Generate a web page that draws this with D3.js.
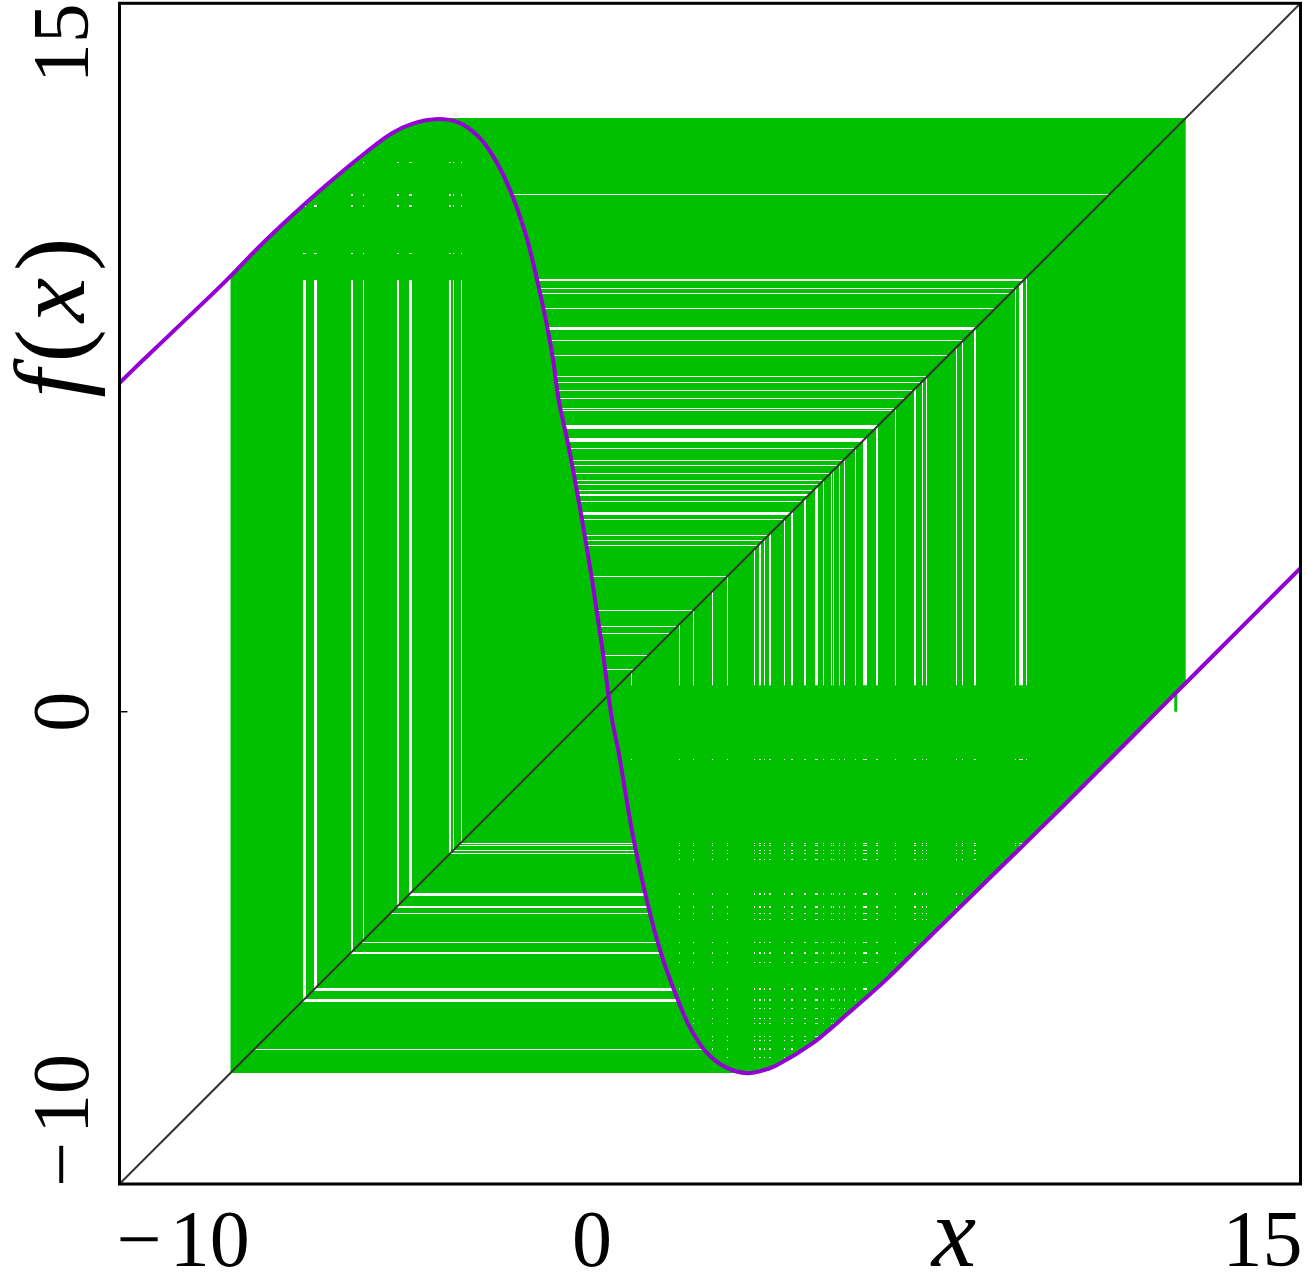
<!DOCTYPE html>
<html>
<head>
<meta charset="utf-8">
<script src="https://cdn.jsdelivr.net/npm/d3@7"></script>
<style>
  body { margin: 0; background: #fff; }
  text { font-family: "Liberation Serif", "DejaVu Serif", serif; fill: #000; }
</style>
</head>
<body>
<div id="graph"></div>
<script>
// curve f(x)
const curveX = [-10.0, -9.566, -8.72, -7.765, -7.059, -6.352, -5.646, -4.941, -4.233, -3.809, -3.316,
                -2.822, -2.398, -2.114, -1.763, -1.409, -1.127, -0.843, -0.703, -0.492, -0.208, 0.004,
                0.216, 0.428, 0.559, 0.860, 1.163, 1.466, 1.769, 2.072, 2.449, 2.828, 3.282, 3.737,
                3.903, 4.659, 5.415, 6.174, 6.930, 7.686, 8.443, 9.956, 11.470, 12.983, 15.0];
const curveY = [6.96, 7.383, 8.19, 9.106, 9.83, 10.50, 11.13, 11.720, 12.250, 12.447, 12.547,
                12.475, 12.178, 11.80, 11.119, 10.131, 9.0, 7.589, 6.6, 5.610, 4.057, 2.786,
                1.373, -0.18, -0.816, -2.581, -3.994, -5.123, -5.970, -6.678, -7.242, -7.525, -7.653, -7.559,
                -7.489, -7.030, -6.394, -5.725, -4.983, -4.242, -3.5, -2.017, -0.498, 1.021, 3.04];

// range swept by the orbit, and the levels where the cobweb pattern changes
const orbitRange = [-7.65, 12.57];
const bandLimits = [9.14, 0.56];
// first step of the orbit, from the x axis up to the curve
const startStep = [12.36, 0, 0.38];

// gaps in the cobweb: [value, width]
const colsLeft = [[-6.091, 0.07], [-5.847, 0.064], [-5.074, 0.042], [-4.835, 0.028], [-4.100, 0.042],
                  [-3.839, 0.07], [-3.004, 0.028], [-2.928, 0.028], [-2.758, 0.028]];
const rowsTop = [[11.627, 0.028], [10.943, 0.057], [10.71, 0.057], [9.708, 0.028]];
const rowsUpper = [[10.953, 0.021], [9.142, 0.06], [8.962, 0.032], [8.856, 0.021], [8.542, 0.021],
                   [8.119, 0.07], [7.856, 0.021], [7.553, 0.021], [7.093, 0.021], [6.966, 0.021],
                   [6.811, 0.021], [6.636, 0.021], [6.424, 0.021], [6.381, 0.021], [6.028, 0.085],
                   [5.752, 0.07], [5.576, 0.021], [5.328, 0.021], [5.222, 0.021], [5.047, 0.021],
                   [4.905, 0.021], [4.814, 0.021], [4.693, 0.021], [4.587, 0.028], [4.445, 0.021],
                   [4.199, 0.07], [4.072, 0.021], [3.739, 0.021], [3.633, 0.021], [3.528, 0.021],
                   [2.856, 0.021], [2.150, 0.021], [1.797, 0.021], [1.657, 0.021], [1.197, 0.021],
                   [0.894, 0.021]];
const colsRight = [[0.831, 0.021], [1.847, 0.021], [2.157, 0.021], [2.547, 0.021], [2.864, 0.028],
                   [3.443, 0.021], [3.566, 0.04], [3.661, 0.021], [3.767, 0.028], [4.085, 0.021],
                   [4.242, 0.04], [4.517, 0.047], [4.756, 0.074], [4.911, 0.021], [5.068, 0.021],
                   [5.123, 0.021], [5.237, 0.021], [5.356, 0.021], [5.589, 0.021], [5.780, 0.085],
                   [6.042, 0.047], [6.430, 0.021], [6.843, 0.047], [6.992, 0.021], [7.093, 0.021],
                   [7.714, 0.021], [7.854, 0.021], [8.112, 0.047], [8.960, 0.021], [9.085, 0.085],
                   [9.210, 0.021]];
const rowsLower = [[-2.780, 0.021], [-2.843, 0.021], [-2.934, 0.021], [-3.004, 0.021], [-3.867, 0.064],
                   [-4.136, 0.028], [-4.275, 0.028], [-4.877, 0.021], [-5.110, 0.042], [-5.879, 0.064],
                   [-6.123, 0.064], [-7.157, 0.021]];
const rowsDots = [[-1.013, 0.021], [-2.780, 0.021], [-2.843, 0.021], [-2.934, 0.021], [-3.004, 0.021],
                  [-3.131, 0.021], [-3.856, 0.042], [-4.136, 0.028], [-4.275, 0.028], [-4.403, 0.021],
                  [-4.877, 0.021], [-5.117, 0.042], [-5.301, 0.021], [-5.873, 0.042], [-6.112, 0.042],
                  [-6.288, 0.021], [-6.500, 0.021], [-6.606, 0.021], [-6.881, 0.032], [-6.966, 0.021],
                  [-7.146, 0.032], [-7.324, 0.021]];

const xTicks = [-10, 0, 15];
const yTicks = [-10, 0, 15];
const yMarks = [0];

function graph() {
  let w = 1308;
  let h = 1275;
  let green = "#00c000";

  const xScale = d3.scaleLinear().domain([-10, 15]).range([119.5, 1300.5]);
  const yScale = d3.scaleLinear().domain([-10, 15]).range([1184, 3.3]);

  const svg = d3.select("#graph")
                .append("svg")
                .attr("width", w)
                .attr("height", h);

  const defs = svg.append("defs");
  const pts = curveX.map((x, i) => [x, curveY[i]]);
  const line = d3.line()
                 .x(d => xScale(d[0]))
                 .y(d => yScale(d[1]))
                 .curve(d3.curveCatmullRom.alpha(0.5));
  const peak = d3.maxIndex(curveY);
  const trough = d3.minIndex(curveY);
  const [m, M] = orbitRange;
  const poly = p => "M" + p.map(d => xScale(d[0]) + "," + yScale(d[1])).join("L") + "Z";

  // clip regions
  defs.append("clipPath").attr("id", "cR")
      .append("rect")
      .attr("x", xScale(m)).attr("y", yScale(M))
      .attr("width", xScale(M) - xScale(m)).attr("height", yScale(m) - yScale(M));

  const cP = defs.append("clipPath").attr("id", "cP");
  cP.append("path")
    .attr("d", line(pts.slice(0, peak + 1)) + `L${xScale(curveX[peak])},${h}L${xScale(-10)},${h}Z`);
  cP.append("rect")
    .attr("x", xScale(curveX[peak])).attr("y", 0)
    .attr("width", xScale(curveX[trough]) - xScale(curveX[peak])).attr("height", h);
  cP.append("path")
    .attr("d", line(pts.slice(trough)) + `L${xScale(15)},0L${xScale(curveX[trough])},0Z`);

  defs.append("clipPath").attr("id", "cU")
      .append("path").attr("d", line(pts) + `L${xScale(15)},${h}L${xScale(-10)},${h}Z`);
  defs.append("clipPath").attr("id", "cO")
      .append("path").attr("d", line(pts) + `L${xScale(15)},0L${xScale(-10)},0Z`);
  defs.append("clipPath").attr("id", "cDp")
      .append("path").attr("d", poly([[-20, -20], [20, 20], [-20, 20]]));
  defs.append("clipPath").attr("id", "cDm")
      .append("path").attr("d", poly([[-20, -20], [20, 20], [20, -20]]));

  const band = (id, lo, hi) => defs.append("clipPath").attr("id", id)
      .append("rect").attr("x", 0).attr("width", w)
      .attr("y", yScale(hi)).attr("height", yScale(lo) - yScale(hi));
  band("cTopHi", bandLimits[0], 20);
  band("cTopLo", -20, bandLimits[0]);
  band("cBotHi", bandLimits[1], 20);
  band("cBotLo", -20, bandLimits[1]);

  const rowRects = (sel, rows, fill) => sel.selectAll(null)
      .data(rows).enter().append("rect")
      .attr("x", 0).attr("width", w)
      .attr("y", d => yScale(d[0] + d[1] / 2))
      .attr("height", d => Math.max(1, yScale(d[0] - d[1] / 2) - yScale(d[0] + d[1] / 2)))
      .attr("fill", fill)
      .attr("shape-rendering", "crispEdges");
  const colRects = (sel, cols) => sel.selectAll(null)
      .data(cols).enter().append("rect")
      .attr("y", 0).attr("height", h)
      .attr("x", d => xScale(d[0] - d[1] / 2))
      .attr("width", d => Math.max(1, xScale(d[0] + d[1] / 2) - xScale(d[0] - d[1] / 2)))
      .attr("fill", "#fff")
      .attr("shape-rendering", "crispEdges");

  const mask = (id, rows) => {
    const mk = defs.append("mask").attr("id", id)
                   .attr("maskUnits", "userSpaceOnUse")
                   .attr("x", 0).attr("y", 0).attr("width", w).attr("height", h);
    rowRects(mk, rows, "#fff");
  };
  mask("mTop", rowsTop);
  mask("mDots", rowsDots);

  const nest = ids => {
    let g = svg;
    ids.forEach(id => { g = g.append("g").attr("clip-path", `url(#${id})`); });
    return g;
  };

  // cobweb: filled sweep of the orbit
  nest(["cR", "cP"]).append("rect")
     .attr("x", 0).attr("y", 0).attr("width", w).attr("height", h)
     .attr("fill", green);

  colRects(nest(["cR", "cP", "cU", "cDp", "cTopLo"]), colsLeft);
  colRects(nest(["cR", "cP", "cU", "cTopHi"]).append("g").attr("mask", "url(#mTop)"), colsLeft);
  rowRects(nest(["cR", "cP", "cO", "cDp"]), rowsUpper, "#fff");
  colRects(nest(["cR", "cP", "cO", "cDm", "cBotHi"]), colsRight);
  colRects(nest(["cR", "cP", "cO", "cDm", "cBotLo"]).append("g").attr("mask", "url(#mDots)"), colsRight);
  rowRects(nest(["cR", "cP", "cU", "cDm"]), rowsLower, "#fff");

  svg.append("line")
     .attr("x1", xScale(startStep[0])).attr("x2", xScale(startStep[0]))
     .attr("y1", yScale(startStep[1])).attr("y2", yScale(startStep[2]))
     .attr("stroke", green)
     .attr("stroke-width", 3);

  // diagonal y = x
  svg.append("line")
     .attr("x1", xScale(-10)).attr("y1", yScale(-10))
     .attr("x2", xScale(15)).attr("y2", yScale(15))
     .attr("stroke", "#333")
     .attr("stroke-width", 2);

  svg.append("path")
     .attr("d", line(pts))
     .attr("fill", "none")
     .attr("stroke", "#9400d3")
     .attr("stroke-width", 4);

  svg.append("rect")
     .attr("x", xScale(-10)).attr("y", yScale(15))
     .attr("width", xScale(15) - xScale(-10))
     .attr("height", yScale(-10) - yScale(15))
     .attr("fill", "none")
     .attr("stroke", "#000")
     .attr("stroke-width", 3);

  svg.selectAll(".ytick")
     .data(yMarks).enter().append("line")
     .attr("class", "ytick")
     .attr("x1", xScale(-10)).attr("x2", xScale(-10) + 8)
     .attr("y1", d => yScale(d)).attr("y2", d => yScale(d))
     .attr("stroke", "#000")
     .attr("stroke-width", 1.5);

  const anchor = (d, i, n) => i === 0 ? "start" : (i === n - 1 ? "end" : "middle");
  const label = (sel, d) => {
    if (d < 0) {
      sel.append("tspan").text("\u2212");
      sel.append("tspan").attr("dx", 8).text(Math.abs(d));
    } else {
      sel.text(d);
    }
  };

  svg.selectAll(".xlab")
     .data(xTicks).enter().append("text")
     .attr("class", "xlab")
     .attr("x", (d, i) => i === 0 ? xScale(d) - 3 : (i === xTicks.length - 1 ? xScale(d) + 2 : xScale(d)))
     .attr("y", 1266)
     .attr("text-anchor", (d, i) => anchor(d, i, xTicks.length))
     .style("font-size", "80px")
     .each(function(d) { label(d3.select(this), d); });

  svg.selectAll(".ylab")
     .data(yTicks).enter().append("text")
     .attr("class", "ylab")
     .attr("transform", (d, i) => `translate(88, ${i === 0 ? yScale(d) + 3 : yScale(d)}) rotate(-90)`)
     .attr("text-anchor", (d, i) => anchor(d, i, yTicks.length))
     .style("font-size", "80px")
     .each(function(d) { label(d3.select(this), d); });

  svg.append("text")
     .attr("x", 954)
     .attr("y", 1266)
     .attr("text-anchor", "middle")
     .style("font-size", "100px")
     .style("font-style", "italic")
     .text("x");

  const fl = svg.append("text")
                .attr("transform", "translate(84, 314) rotate(-90)")
                .attr("text-anchor", "middle")
                .style("font-size", "100px")
                .style("letter-spacing", "7px");
  fl.append("tspan").style("font-style", "italic").text("f");
  fl.append("tspan").text("(");
  fl.append("tspan").style("font-style", "italic").text("x");
  fl.append("tspan").text(")");
}

graph();
</script>
</body>
</html>
